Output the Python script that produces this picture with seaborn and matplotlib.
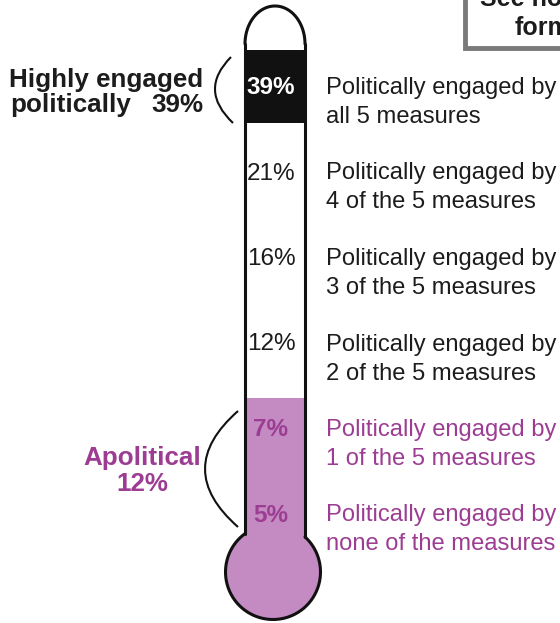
import numpy as np
import matplotlib
matplotlib.use("Agg")
import matplotlib.pyplot as plt
from matplotlib.patches import Rectangle, Circle, PathPatch
from matplotlib.path import Path
import seaborn as sns

# ---------------- data ----------------
shares = [39, 21, 16, 12, 7, 5]
line1 = ["Politically engaged by"] * 6
line2 = ["all 5 measures", "4 of the 5 measures", "3 of the 5 measures",
         "2 of the 5 measures", "1 of the 5 measures", "none of the measures"]
groups = ["high", "mid", "mid", "mid", "apol", "apol"]
high_label = ["Highly engaged", "politically", "39%"]
apol_label = ["Apolitical", "12%"]
note_lines = ["See no", "form"]

# ---------------- style ----------------
sns.set_theme(style="white")
plt.rcParams['font.family'] = ['Liberation Sans', 'DejaVu Sans']

BLACK = "#111111"
PURPLE_TXT = "#9c3d93"
PURPLE_FILL = "#c48bc2"
TXT = "#1c1c1c"

fig = plt.figure(figsize=(5.6, 6.23), dpi=100)
ax = fig.add_axes([0, 0, 1, 1])
ax.set_xlim(0, 560)
ax.set_ylim(623, 0)
ax.set_axis_off()

# layout (pixels)
xl, xr = 245, 305
xc = (xl + xr) / 2
tube_top = 44
row_y0, row_step = 88, 85.5
rows_y = [row_y0 + i * row_step for i in range(len(shares))]
black_top, black_bot = 50, 123
purple_top = 398
bcx, bcy, br = 273, 572, 47.5

# purple fill (apolitical part + bulb)
ax.add_patch(Rectangle((xl, purple_top), xr - xl, 545 - purple_top,
                       facecolor=PURPLE_FILL, edgecolor="none", zorder=1))
ax.add_patch(Circle((bcx, bcy), br, facecolor=PURPLE_FILL, edgecolor="none", zorder=1))
# black band (highly engaged)
ax.add_patch(Rectangle((xl, black_top), xr - xl, black_bot - black_top,
                       facecolor=BLACK, edgecolor="none", zorder=1))

# outline
lw = 2.2
t = np.linspace(0, np.pi, 100)
ax.plot(xc + (xr - xl) / 2 * np.cos(t), tube_top - 38 * np.sin(t), color=BLACK, lw=lw, zorder=3)
def joint(x):
    return bcy - np.sqrt(br**2 - (x - bcx)**2)
yl_j, yr_j = joint(xl), joint(xr)
ax.plot([xl, xl], [tube_top, yl_j], color=BLACK, lw=lw, zorder=3)
ax.plot([xr, xr], [tube_top, yr_j], color=BLACK, lw=lw, zorder=3)
tr = np.arctan2(yr_j - bcy, xr - bcx)
tl = np.arctan2(yl_j - bcy, xl - bcx) + 2 * np.pi
tt = np.linspace(tr, tl, 200)
ax.plot(bcx + br * np.cos(tt), bcy + br * np.sin(tt), color=BLACK, lw=lw, zorder=3)

# percentages and descriptions
for i, (v, a, b, g) in enumerate(zip(shares, line1, line2, groups)):
    y = rows_y[i]
    if g == "high":
        pc, pw, dc = "white", "bold", TXT
    elif g == "apol":
        pc, pw, dc = PURPLE_TXT, "bold", PURPLE_TXT
    else:
        pc, pw, dc = TXT, "normal", TXT
    ax.text(xc - 4, y, f"{v}%", ha="center", va="center", fontsize=17.5,
            color=pc, fontweight=pw, zorder=4)
    ax.text(326, y, a, ha="left", va="center", fontsize=17.1, color=dc, zorder=4)
    ax.text(326, y + 29, b, ha="left", va="center", fontsize=17.1, color=dc, zorder=4)

# brackets
def bracket(p0, c, p1):
    path = Path([p0, c, p1], [Path.MOVETO, Path.CURVE3, Path.CURVE3])
    ax.add_patch(PathPatch(path, facecolor="none", edgecolor=BLACK, lw=1.5, zorder=3))
bracket((231, 57), (198, 90), (233, 123))
bracket((238, 411), (172, 469), (238, 527))

# group labels
FS = 18.7
ax.text(203, 87, high_label[0], ha="right", va="baseline", fontsize=FS,
        fontweight="bold", color=TXT)
ax.text(10, 112, high_label[1], ha="left", va="baseline", fontsize=FS,
        fontweight="bold", color=TXT)
ax.text(203, 112, high_label[2], ha="right", va="baseline", fontsize=FS,
        fontweight="bold", color=TXT)
ax.text(142, 465, apol_label[0], ha="center", va="baseline", fontsize=FS,
        fontweight="bold", color=PURPLE_TXT)
ax.text(142, 491, apol_label[1], ha="center", va="baseline", fontsize=FS,
        fontweight="bold", color=PURPLE_TXT)

# note box (cut off at top-right, as in the source)
ax.add_patch(Rectangle((465, -20), 130, 68, facecolor="white", edgecolor="#7a7a7a",
                       lw=3.5, zorder=2))
ax.text(480, 6, note_lines[0], ha="left", va="baseline", fontsize=18,
        fontweight="bold", color=TXT, zorder=4)
ax.text(515, 35, note_lines[1], ha="left", va="baseline", fontsize=18,
        fontweight="bold", color=TXT, zorder=4)

fig.savefig("out.png", dpi=100)
